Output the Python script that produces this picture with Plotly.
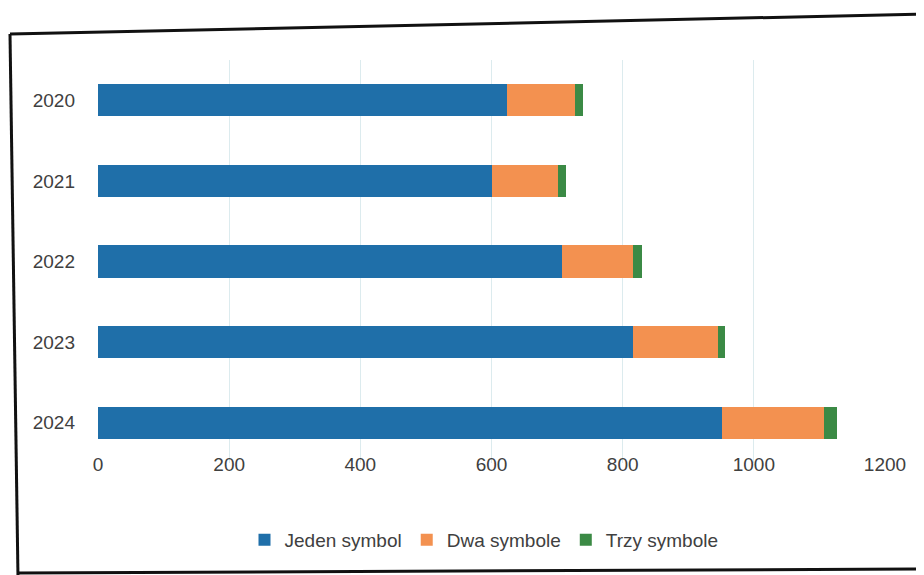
import plotly.graph_objects as go

years = ["2020", "2021", "2022", "2023", "2024"]
jeden = [623, 601, 707, 816, 952]
dwa = [105, 101, 108, 129, 155]
trzy = [11, 12, 14, 11, 20]
series_names = ["Jeden symbol", "Dwa symbole", "Trzy symbole"]
x_ticks = [0, 200, 400, 600, 800, 1000, 1200]

colors = ["#1f6fa9", "#f39150", "#3b8a45"]

OFF = 8  # page body margin
W, H = 924 - OFF, 575 - OFF
# target (window) pixel positions of plot area
PL, PR, PT, PB = 98, 885, 60, 463
L, R, T, B = PL - OFF, W - (PR - OFF), PT - OFF, H - (PB - OFF)
pw, ph = W - L - R, H - T - B


def px(x):
    return (x - OFF - L) / pw


def py(y):
    return (H - B - (y - OFF)) / ph


fig = go.Figure()
for name, vals, col in zip(series_names, [jeden, dwa, trzy], colors):
    fig.add_trace(go.Bar(
        y=years, x=vals, name=name, orientation="h",
        marker=dict(color=col, line=dict(width=0)),
    ))

font = dict(family="Liberation Sans, Arial, sans-serif", size=19, color="#404040")

frame = dict(color="#111111", width=3)
shapes = [
    dict(type="line", xref="paper", yref="paper", x0=px(10), y0=py(34), x1=px(930), y1=py(14), line=frame),
    dict(type="line", xref="paper", yref="paper", x0=px(10), y0=py(34), x1=px(18), y1=py(578), line=frame),
    dict(type="line", xref="paper", yref="paper", x0=px(18), y0=py(573), x1=px(930), y1=py(569), line=frame),
]

fig.update_layout(
    width=W, height=H,
    margin=dict(l=L, r=R, t=T, b=B, autoexpand=False),
    barmode="stack",
    bargap=0.6,
    plot_bgcolor="white",
    paper_bgcolor="white",
    font=font,
    showlegend=True,
    legend=dict(
        orientation="h", x=px(484), xanchor="center", y=py(540), yanchor="middle",
        font=font, itemwidth=30, traceorder="normal",
    ),
    xaxis=dict(
        range=[0, 1200], tickvals=x_ticks, ticktext=[str(v) for v in x_ticks],
        showgrid=True, gridcolor="#dcebee", gridwidth=1, zeroline=False,
        showline=False, ticks="", tickfont=font, automargin=False,
        ticklabelstandoff=-12,
    ),
    yaxis=dict(
        categoryorder="array", categoryarray=years, autorange="reversed",
        showgrid=False, zeroline=False, showline=False, ticks="",
        ticklabelstandoff=22, tickfont=font, automargin=False,
    ),
    shapes=shapes,
)

fig.write_html("out.html")
